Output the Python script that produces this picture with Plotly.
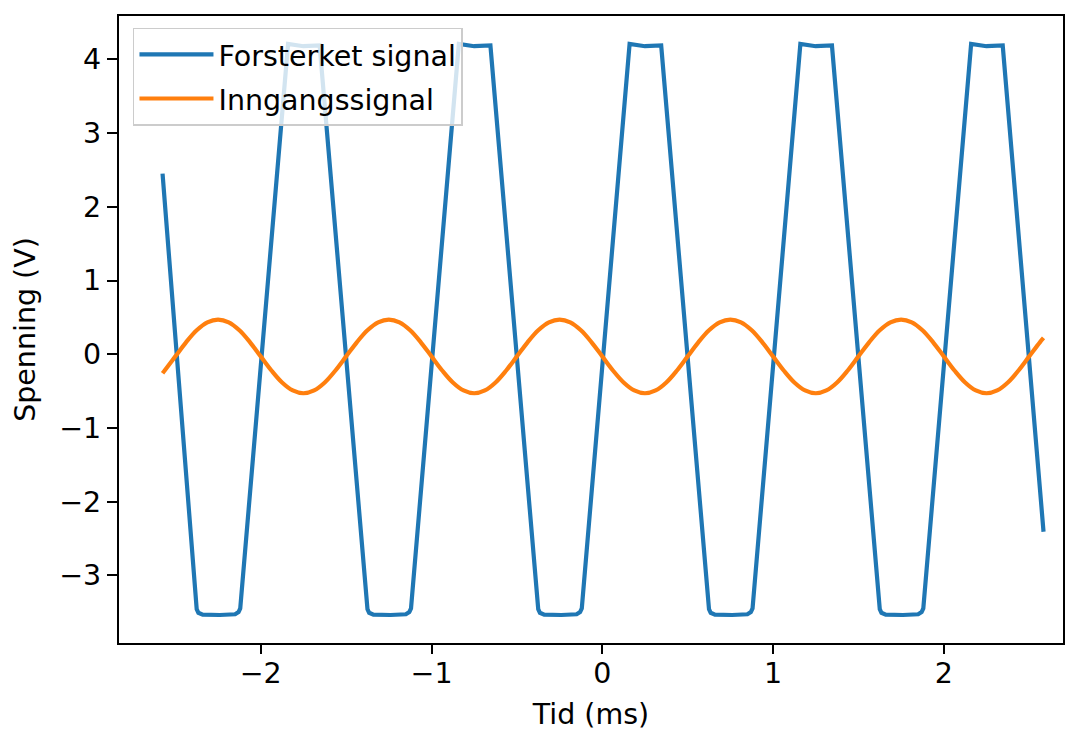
import plotly.graph_objects as go

# Amplified signal (Forsterket signal): vertices (ms, V)
t_out = [-2.575, -2.375, -2.365, -2.34, -2.24, -2.15, -2.13, -2.12,
         -1.84, -1.75, -1.655,
         -1.375, -1.365, -1.34, -1.24, -1.15, -1.13, -1.12,
         -0.84, -0.75, -0.655,
         -0.375, -0.365, -0.34, -0.24, -0.15, -0.13, -0.12,
         0.16, 0.25, 0.345,
         0.625, 0.635, 0.66, 0.76, 0.85, 0.87, 0.88,
         1.16, 1.25, 1.345,
         1.625, 1.635, 1.66, 1.76, 1.85, 1.87, 1.88,
         2.16, 2.25, 2.345,
         2.584]
v_out = [2.45, -3.46, -3.51, -3.535, -3.54, -3.53, -3.50, -3.45,
         4.21, 4.18, 4.19,
         -3.46, -3.51, -3.535, -3.54, -3.53, -3.50, -3.45,
         4.21, 4.18, 4.19,
         -3.46, -3.51, -3.535, -3.54, -3.53, -3.50, -3.45,
         4.21, 4.18, 4.19,
         -3.46, -3.51, -3.535, -3.54, -3.53, -3.50, -3.45,
         4.21, 4.18, 4.19,
         -3.46, -3.51, -3.535, -3.54, -3.53, -3.50, -3.45,
         4.21, 4.18, 4.19,
         -2.41]

# Input signal (Inngangssignal): points (ms, V)
t_in = [-2.575,
        -2.5625, -2.5, -2.4375, -2.375, -2.3125, -2.25, -2.1875, -2.125,
        -2.0625, -2.0, -1.9375, -1.875, -1.8125, -1.75, -1.6875, -1.625,
        -1.5625, -1.5, -1.4375, -1.375, -1.3125, -1.25, -1.1875, -1.125,
        -1.0625, -1.0, -0.9375, -0.875, -0.8125, -0.75, -0.6875, -0.625,
        -0.5625, -0.5, -0.4375, -0.375, -0.3125, -0.25, -0.1875, -0.125,
        -0.0625, 0.0, 0.0625, 0.125, 0.1875, 0.25, 0.3125, 0.375,
        0.4375, 0.5, 0.5625, 0.625, 0.6875, 0.75, 0.8125, 0.875,
        0.9375, 1.0, 1.0625, 1.125, 1.1875, 1.25, 1.3125, 1.375,
        1.4375, 1.5, 1.5625, 1.625, 1.6875, 1.75, 1.8125, 1.875,
        1.9375, 2.0, 2.0625, 2.125, 2.1875, 2.25, 2.3125, 2.375,
        2.4375, 2.5, 2.5625, 2.584]
v_in = [-0.26,
        -0.221, -0.03, 0.161, 0.324, 0.432, 0.47, 0.432, 0.324,
        0.161, -0.03, -0.221, -0.384, -0.492, -0.53, -0.492, -0.384,
        -0.221, -0.03, 0.161, 0.324, 0.432, 0.47, 0.432, 0.324,
        0.161, -0.03, -0.221, -0.384, -0.492, -0.53, -0.492, -0.384,
        -0.221, -0.03, 0.161, 0.324, 0.432, 0.47, 0.432, 0.324,
        0.161, -0.03, -0.221, -0.384, -0.492, -0.53, -0.492, -0.384,
        -0.221, -0.03, 0.161, 0.324, 0.432, 0.47, 0.432, 0.324,
        0.161, -0.03, -0.221, -0.384, -0.492, -0.53, -0.492, -0.384,
        -0.221, -0.03, 0.161, 0.324, 0.432, 0.47, 0.432, 0.324,
        0.161, -0.03, -0.221, -0.384, -0.492, -0.53, -0.492, -0.384,
        -0.221, -0.03, 0.161, 0.22]

x_ticks = [-2, -1, 0, 1, 2]
y_ticks = [-3, -2, -1, 0, 1, 2, 3, 4]

FONT = "DejaVu Sans"
FS = 28.5
X_RANGE = [-2.83, 2.698]

fig = go.Figure()
fig.add_trace(go.Scatter(x=t_out, y=v_out, mode="lines", name="Forsterket signal",
                         legendgroup="a",
                         line=dict(color="#1f77b4", width=4.2)))
fig.add_trace(go.Scatter(x=t_in, y=v_in, mode="lines", name="Inngangssignal",
                         legendgroup="b",
                         line=dict(color="#ff7f0e", width=4.2, shape="spline")))

axis_common = dict(showgrid=False, zeroline=False, showline=True, linecolor="black",
                   linewidth=2.2, mirror=True, ticks="outside", ticklen=10, tickwidth=2.2,
                   tickcolor="black", automargin=False,
                   tickfont=dict(family=FONT, size=FS, color="black"))

x_common = dict(axis_common)
x_common.update(ticklen=4, tickcolor="rgba(0,0,0,0)")

fig.update_layout(
    width=1069, height=728,
    margin=dict(l=111, r=14, t=8, b=93),
    paper_bgcolor="white", plot_bgcolor="white",
    font=dict(family=FONT, size=FS, color="black"),
    xaxis=dict(range=X_RANGE, tickvals=x_ticks,
               title=dict(text="Tid (ms)", font=dict(family=FONT, size=FS)),
               **x_common),
    # second x axis only to draw the longer outside tick marks
    xaxis2=dict(range=X_RANGE, tickvals=x_ticks, overlaying="x", anchor="y", side="bottom",
                showgrid=False, zeroline=False, showline=False, showticklabels=False,
                ticks="outside", ticklen=10, tickwidth=2.2, tickcolor="black"),
    yaxis=dict(range=[-3.92, 4.59], tickvals=y_ticks,
               title=dict(text="Spenning (V)", font=dict(family=FONT, size=FS)),
               **axis_common),
    legend=dict(x=0.0148, y=0.981, xanchor="left", yanchor="top",
                traceorder="grouped", tracegroupgap=4, itemwidth=74,
                bgcolor="rgba(255,255,255,0.8)", bordercolor="#cccccc", borderwidth=1.5,
                font=dict(family=FONT, size=FS, color="black")),
    showlegend=True,
)
# invisible trace so that xaxis2 is drawn
fig.add_trace(go.Scatter(x=[X_RANGE[0]], y=[0], xaxis="x2", mode="markers",
                         marker=dict(opacity=0), showlegend=False, hoverinfo="skip"))

fig.write_html("out.html")
